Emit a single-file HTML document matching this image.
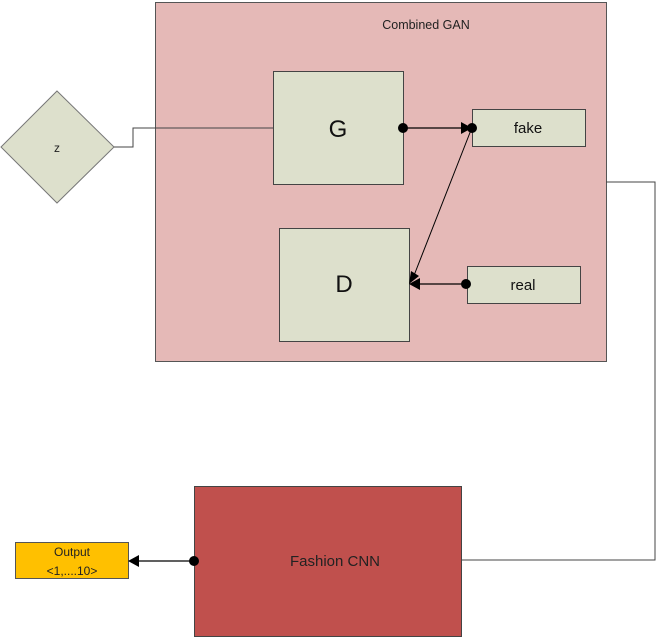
<!DOCTYPE html>
<html><head><meta charset="utf-8"><style>html,body{margin:0;padding:0;background:#fff;}svg{display:block}</style></head>
<body>
<svg width="657" height="638" viewBox="0 0 657 638" xmlns="http://www.w3.org/2000/svg" font-family="Liberation Sans, sans-serif">
<rect x="155.5" y="2.5" width="451" height="359" fill="#e5b9b7" stroke="#555" stroke-width="1"/>
<text x="426" y="29" font-size="12.5" text-anchor="middle" fill="#222">Combined GAN</text>
<polygon points="57,91 114,147 57,203 1,147" fill="#dde0cc" stroke="#777" stroke-width="1"/>
<text x="57" y="152" font-size="12" text-anchor="middle" fill="#222">z</text>
<polyline points="114,147 133,147 133,128 273,128" fill="none" stroke="#444" stroke-width="1"/>
<rect x="273.5" y="71.5" width="130" height="113" fill="#dde0cc" stroke="#444"/>
<text x="338" y="137" font-size="24" text-anchor="middle" fill="#111">G</text>
<rect x="472.5" y="109.5" width="113" height="37" fill="#dde0cc" stroke="#444"/>
<text x="528" y="133" font-size="15" text-anchor="middle" fill="#111">fake</text>
<rect x="279.5" y="228.5" width="130" height="113" fill="#dde0cc" stroke="#444"/>
<text x="344" y="292" font-size="24" text-anchor="middle" fill="#111">D</text>
<rect x="467.5" y="266.5" width="113" height="37" fill="#dde0cc" stroke="#444"/>
<text x="523" y="290" font-size="15" text-anchor="middle" fill="#111">real</text>
<line x1="403" y1="128" x2="463" y2="128" stroke="#000" stroke-width="1.3"/>
<circle cx="403" cy="128" r="5" fill="#000"/>
<polygon points="461,122 472,128 461,134" fill="#000"/>
<circle cx="472" cy="128" r="5" fill="#000"/>
<line x1="471" y1="130" x2="413" y2="278" stroke="#000" stroke-width="1"/>
<polygon points="409,284 411,271 419,276" fill="#000"/>
<line x1="466" y1="284" x2="418" y2="284" stroke="#000" stroke-width="1.3"/>
<polygon points="409,284 420,278 420,290" fill="#000"/>
<circle cx="466" cy="284" r="5" fill="#000"/>
<polyline points="606,182 655,182 655,560 462,560" fill="none" stroke="#444" stroke-width="1"/>
<rect x="194.5" y="486.5" width="267" height="150" fill="#c0504d" stroke="#444"/>
<text x="335" y="566" font-size="15" text-anchor="middle" fill="#222">Fashion CNN</text>
<rect x="15.5" y="542.5" width="113" height="36" fill="#ffc000" stroke="#555"/>
<text x="72" y="556" font-size="12" text-anchor="middle" fill="#222">Output</text>
<text x="72" y="575" font-size="12" text-anchor="middle" fill="#222">&lt;1,....10&gt;</text>
<line x1="194" y1="561" x2="138" y2="561" stroke="#000" stroke-width="1.3"/>
<polygon points="128,561 139,555 139,567" fill="#000"/>
<circle cx="194" cy="561" r="5" fill="#000"/>
</svg>
</body></html>
